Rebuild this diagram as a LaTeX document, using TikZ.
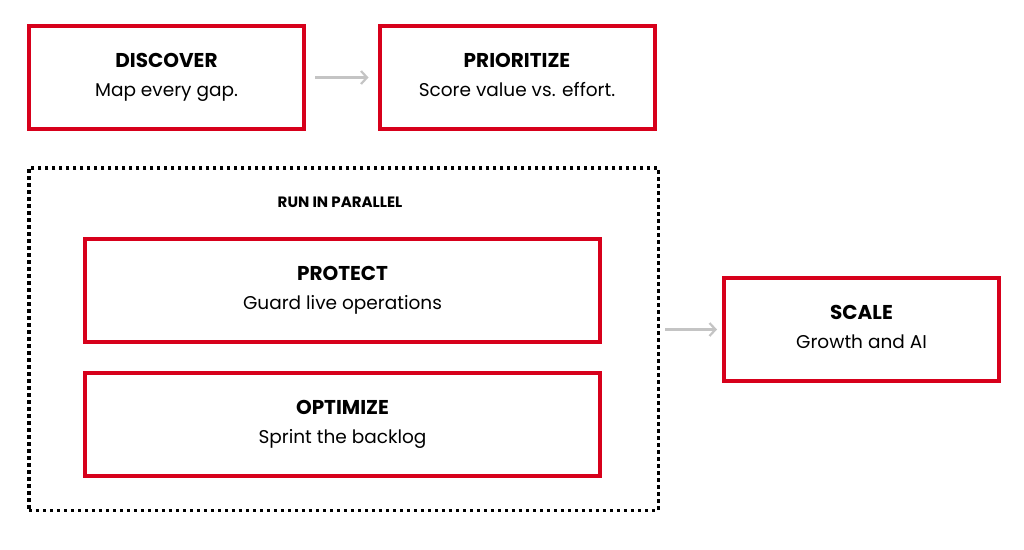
\documentclass[tikz,border=0pt]{standalone}
\usepackage{fontspec}
\setmainfont{Poppins}
\usetikzlibrary{arrows.meta}

\definecolor{stagered}{RGB}{215,0,27}
\definecolor{flowgray}{RGB}{196,196,196}

\newcommand{\stagetext}[2]{{\fontsize{20}{30}\selectfont\bfseries #1}\\[2pt]{#2\vphantom{gl}}}

\begin{document}
\begin{tikzpicture}[x=1pt,y=-1pt,
  stage node/.style={draw=stagered, line width=4pt, fill=white, align=center,
    font=\fontsize{18.5}{27}\selectfont,
    minimum width=275pt, minimum height=103pt, inner sep=0pt},
  wide node/.style={stage node, minimum width=515pt},
  group node/.style={draw=black, line width=3.5pt, dash pattern=on 3.5pt off 3.5pt,
    minimum width=629.5pt, minimum height=342.5pt, inner sep=0pt},
  flow/.style={draw=flowgray, line width=2.2pt, -{Straight Barb[length=6pt,width=13pt]}}]

  \useasboundingbox (0,0) rectangle (1024,549);

  \node[stage node] (discover) at (166.5,77.5) {\stagetext{DISCOVER}{Map every gap.}};
  \node[stage node] (prioritize) at (517,77.5) {\stagetext{PRIORITIZE}{Score value vs. effort.}};

  \node[group node] (parallel) at (343.5,339) {};
  \node[font=\fontsize{15}{17}\selectfont\bfseries] (runlabel) at (340,202) {RUN IN PARALLEL};

  \node[wide node] (protect) at (342.5,290.5) {\stagetext{PROTECT}{Guard live operations}};
  \node[wide node] (optimize) at (342.5,424.5) {\stagetext{OPTIMIZE}{Sprint the backlog}};

  \node[stage node] (scale) at (861.5,329.5) {\stagetext{SCALE}{Growth and AI}};

  \coordinate (groupexit) at (parallel.east |- scale.west);

  \draw[flow, shorten <=9pt, shorten >=9pt] (discover) -- (prioritize);
  \draw[flow, shorten <=5pt, shorten >=5pt] (groupexit) -- (scale.west);
\end{tikzpicture}
\end{document}
